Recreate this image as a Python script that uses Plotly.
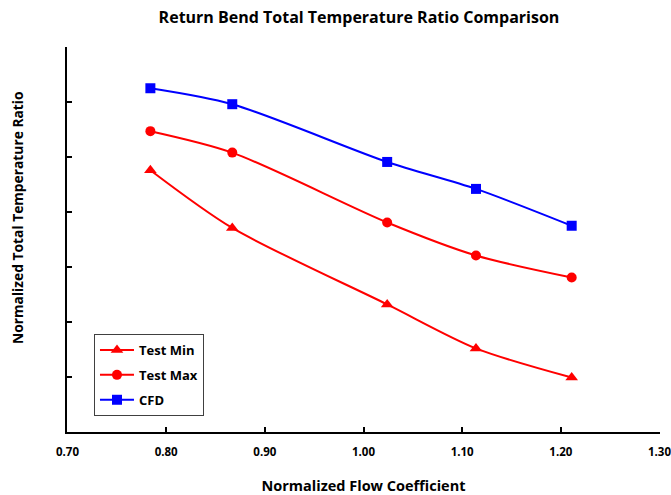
import plotly.graph_objects as go

# Normalized flow coefficient at each test point
flow_coeff = [0.784, 0.867, 1.024, 1.114, 1.211]

# Normalized total temperature ratio (unlabelled axis units)
test_min = [4.76, 3.71, 2.32, 1.52, 0.99]
test_max = [5.47, 5.08, 3.81, 3.21, 2.81]
cfd = [6.25, 5.96, 4.91, 4.42, 3.75]

x_ticks = [0.70, 0.80, 0.90, 1.00, 1.10, 1.20, 1.30]

FONT = "Open Sans"

fig = go.Figure()

series = [
    ("Test Min", test_min, "#ff0000", "triangle-up", 11),
    ("Test Max", test_max, "#ff0000", "circle", 10),
    ("CFD", cfd, "#0000ff", "square", 10),
]
for name, vals, color, symbol, size in series:
    fig.add_trace(go.Scatter(
        x=flow_coeff, y=vals, name=f"<b>{name}</b>", legendgroup=name,
        mode="lines+markers",
        line=dict(color=color, width=2, shape="spline", smoothing=0.8),
        marker=dict(symbol=symbol, size=size, color=color),
    ))

fig.update_layout(
    width=671, height=495,
    margin=dict(l=67, r=11, t=47, b=63, autoexpand=False),
    paper_bgcolor="white", plot_bgcolor="white",
    font=dict(family=FONT, color="black"),
    title=dict(
        text="<b>Return Bend Total Temperature Ratio Comparison</b>",
        x=0.535, xanchor="center", y=0.965, yanchor="middle",
        font=dict(size=16, family=FONT),
    ),
    showlegend=True,
    legend=dict(
        x=0.0455, y=0.2545, xanchor="left", yanchor="top",
        bordercolor="#404040", borderwidth=1, bgcolor="white",
        font=dict(size=13, family=FONT),
        traceorder="grouped", tracegroupgap=5,
        itemwidth=34,
    ),
    annotations=[dict(
        text="<b>Normalized Total Temperature Ratio</b>",
        textangle=-90, xref="paper", yref="paper",
        x=-50 / 593, y=(432 - 218) / 385,
        xanchor="center", yanchor="middle", showarrow=False,
        font=dict(size=13.8, family=FONT),
    )],
)

fig.update_xaxes(
    range=[0.6995, 1.3005], tickvals=x_ticks,
    ticktext=[f"<b>{v:.2f}</b>" for v in x_ticks],
    showline=True, linecolor="black", linewidth=1.5,
    ticks="inside", ticklen=5, tickwidth=1.5, tickcolor="black",
    showgrid=False, zeroline=False, automargin=False,
    tickfont=dict(size=11.5, family=FONT),
    ticklabelstandoff=8, ticklabeloverflow="allow",
    title=dict(text="<b>Normalized Flow Coefficient</b>",
               font=dict(size=14.5, family=FONT), standoff=24),
)
fig.update_yaxes(
    range=[0, 7], dtick=1, showticklabels=False,
    showline=True, linecolor="black", linewidth=1.5,
    ticks="inside", ticklen=5, tickwidth=1.5, tickcolor="black",
    showgrid=False, zeroline=False, automargin=False,
)

fig.write_html("out.html")
